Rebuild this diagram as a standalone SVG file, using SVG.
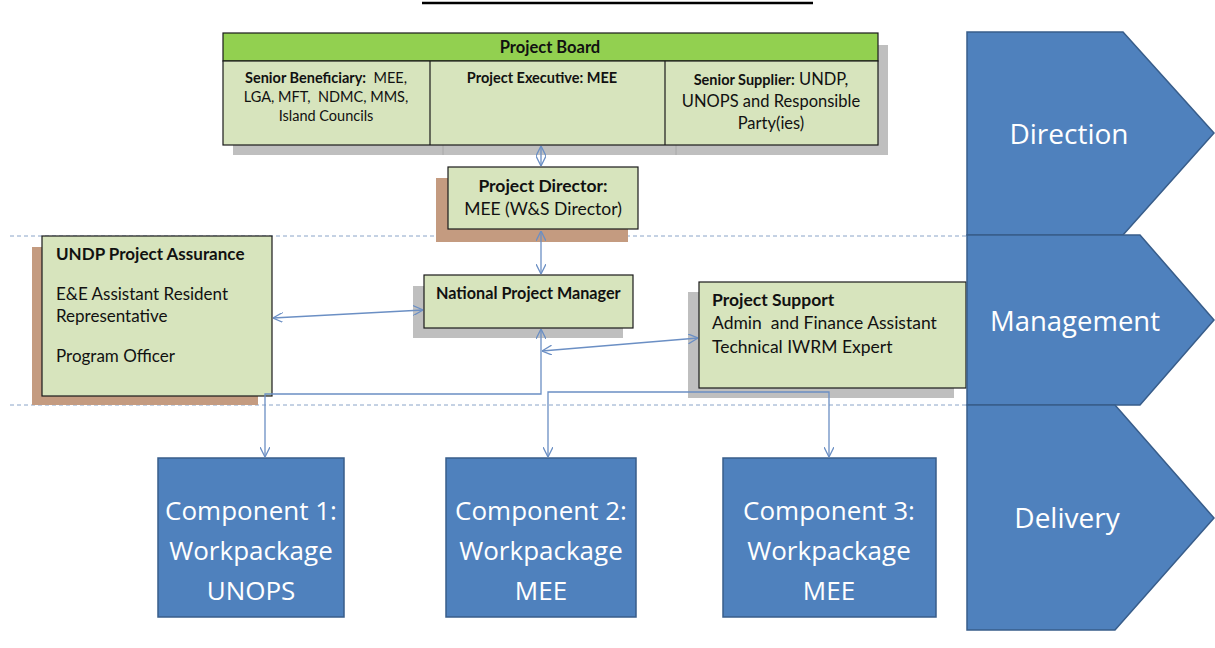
<svg xmlns="http://www.w3.org/2000/svg" width="1215" height="648" viewBox="0 0 1215 648">
<style>
.box{fill:#d7e4bd;stroke:#1a1a1a;stroke-width:1.2}
.gsh{fill:#bfbfbf}
.bsh{fill:#c49b80}
.blue{fill:#4f81bd;stroke:#385d8a;stroke-width:1.5}
.t{font-family:Lato,"Open Sans",sans-serif;fill:#111}
.b{font-weight:bold}
.w{font-family:"Open Sans",Lato,sans-serif;fill:#fff}
.con{fill:none;stroke:#6b8fc4;stroke-width:1.3}
.dash{stroke:#8aa4c8;stroke-width:1;stroke-dasharray:4,3}
</style>
<defs>
<marker id="ar" viewBox="0 0 10 10" refX="10" refY="5" markerWidth="10" markerHeight="10" markerUnits="userSpaceOnUse" orient="auto-start-reverse">
<path d="M0,0 L10,5 L0,10" fill="none" stroke="#6b8fc4" stroke-width="1.3"/>
</marker>
</defs>
<rect width="1215" height="648" fill="#fff"/>
<line x1="422" y1="3" x2="813" y2="3" stroke="#000" stroke-width="2.5"/>
<g id="guides">
<line class="dash" x1="10" y1="236" x2="967" y2="236"/>
<line class="dash" x1="10" y1="405" x2="967" y2="405"/>
</g>
<g id="project-board">
<rect class="gsh" x="233" y="45" width="655" height="110"/>
<line x1="443" y1="145" x2="443" y2="155" stroke="#a8a8a8"/>
<line x1="676" y1="145" x2="676" y2="155" stroke="#a8a8a8"/>
<rect x="223" y="33" width="655" height="28" fill="#92d050" stroke="#1a1a1a" stroke-width="1.2"/>
<rect class="box" x="223" y="61" width="655" height="84"/>
<line x1="430" y1="61" x2="430" y2="145" stroke="#1a1a1a" stroke-width="1.2"/>
<line x1="665" y1="61" x2="665" y2="145" stroke="#1a1a1a" stroke-width="1.2"/>
<text class="t b" x="550" y="53" font-size="16.5" text-anchor="middle">Project Board</text>
<text class="t" x="326" y="83" font-size="14.5" text-anchor="middle"><tspan class="b">Senior Beneficiary:</tspan>&#160; MEE,</text>
<text class="t" x="326" y="102" font-size="14.5" text-anchor="middle">LGA, MFT,&#160; NDMC, MMS,</text>
<text class="t" x="326" y="121" font-size="14.5" text-anchor="middle">Island Councils</text>
<text class="t b" x="542" y="83" font-size="14.5" text-anchor="middle">Project Executive: MEE</text>
<text class="t" x="771" y="85" font-size="16.5" text-anchor="middle"><tspan class="b" font-size="14.5">Senior Supplier:</tspan> UNDP,</text>
<text class="t" x="771" y="107" font-size="16.5" text-anchor="middle">UNOPS and Responsible</text>
<text class="t" x="771" y="129" font-size="16.5" text-anchor="middle">Party(ies)</text>
</g>
<g id="project-director">
<rect class="bsh" x="436" y="178" width="192" height="64"/>
<rect class="box" x="448" y="167" width="190" height="62"/>
<text class="t b" x="543" y="192" font-size="17.5" text-anchor="middle">Project Director:</text>
<text class="t" x="543" y="215" font-size="17.5" text-anchor="middle">MEE (W&amp;S Director)</text>
</g>
<g id="undp-assurance">
<rect class="bsh" x="32" y="247" width="226" height="158"/>
<rect class="box" x="42" y="236" width="230" height="160"/>
<text class="t b" x="56" y="260" font-size="17">UNDP Project Assurance</text>
<text class="t" x="56" y="300" font-size="17">E&amp;E Assistant Resident</text>
<text class="t" x="56" y="322" font-size="17">Representative</text>
<text class="t" x="56" y="362" font-size="17">Program Officer</text>
</g>
<g id="national-project-manager">
<rect class="gsh" x="413" y="286" width="210" height="52"/>
<rect class="box" x="424" y="275" width="209" height="53"/>
<text class="t b" x="436" y="299" font-size="16.2">National Project Manager</text>
</g>
<g id="project-support">
<rect class="gsh" x="688" y="292" width="266" height="106"/>
<rect class="box" x="699" y="282" width="267" height="106"/>
<text class="t b" x="712" y="306" font-size="17.5">Project Support</text>
<text class="t" x="712" y="329" font-size="17.5">Admin&#160; and Finance Assistant</text>
<text class="t" x="712" y="353" font-size="17.5">Technical IWRM Expert</text>
</g>
<g id="component-1">
<rect class="blue" x="158" y="458" width="186" height="159"/>
<text class="w" x="251" y="520" font-size="26" text-anchor="middle">Component 1:</text>
<text class="w" x="251" y="560" font-size="26" text-anchor="middle">Workpackage</text>
<text class="w" x="251" y="600" font-size="26" text-anchor="middle">UNOPS</text>
</g>
<g id="component-2">
<rect class="blue" x="446" y="458" width="190" height="159"/>
<text class="w" x="541" y="520" font-size="26" text-anchor="middle">Component 2:</text>
<text class="w" x="541" y="560" font-size="26" text-anchor="middle">Workpackage</text>
<text class="w" x="541" y="600" font-size="26" text-anchor="middle">MEE</text>
</g>
<g id="component-3">
<rect class="blue" x="723" y="458" width="213" height="159"/>
<text class="w" x="829" y="520" font-size="26" text-anchor="middle">Component 3:</text>
<text class="w" x="829" y="560" font-size="26" text-anchor="middle">Workpackage</text>
<text class="w" x="829" y="600" font-size="26" text-anchor="middle">MEE</text>
</g>
<g id="direction">
<polygon class="blue" points="967,32 1123,32 1214,133 1123,235 967,235"/>
<text class="w" x="1069" y="144" font-size="28" text-anchor="middle">Direction</text>
</g>
<g id="management">
<polygon class="blue" points="967,235 1140,235 1214,320 1140,405 967,405"/>
<text class="w" x="1075" y="331" font-size="27.5" text-anchor="middle">Management</text>
</g>
<g id="delivery">
<polygon class="blue" points="967,405 1115,405 1214,518 1115,630 967,630"/>
<text class="w" x="1067" y="528" font-size="28" text-anchor="middle">Delivery</text>
</g>
<g id="connectors">
<line class="con" x1="541" y1="146" x2="541" y2="166" marker-start="url(#ar)" marker-end="url(#ar)"/>
<line class="con" x1="541" y1="231" x2="541" y2="274" marker-start="url(#ar)" marker-end="url(#ar)"/>
<line class="con" x1="273" y1="318" x2="423" y2="310" marker-start="url(#ar)" marker-end="url(#ar)"/>
<line class="con" x1="542" y1="351" x2="698" y2="338" marker-start="url(#ar)" marker-end="url(#ar)"/>
<path class="con" d="M265,457 L265,394 L541,394 L541,329" marker-start="url(#ar)" marker-end="url(#ar)"/>
<path class="con" d="M548,457 L548,392 L829,392 L829,457" marker-start="url(#ar)" marker-end="url(#ar)"/>
</g>
</svg>
